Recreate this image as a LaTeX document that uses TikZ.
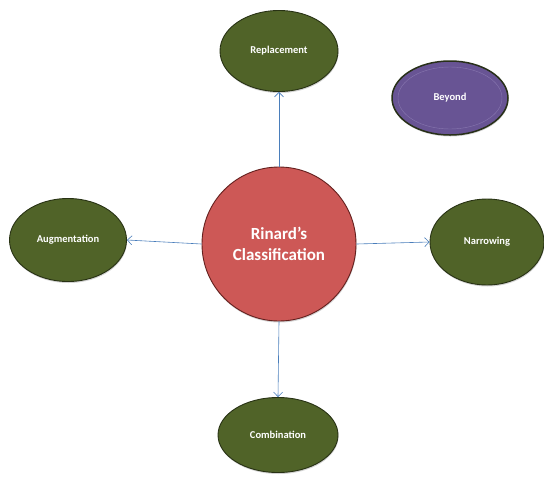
\documentclass[tikz,border=0pt]{standalone}
\usepackage{fontspec}
\setmainfont{Carlito}
\usetikzlibrary{shapes.geometric,arrows.meta,shadows}
\definecolor{olivefill}{RGB}{80,99,40}
\definecolor{oliveedge}{RGB}{40,50,20}
\definecolor{redfill}{RGB}{205,88,86}
\definecolor{rededge}{RGB}{100,32,30}
\definecolor{purplefill}{RGB}{104,84,148}
\definecolor{purpleedge}{RGB}{40,48,25}
\definecolor{purpleline}{RGB}{135,118,175}
\definecolor{arrowblue}{RGB}{74,126,187}
\tikzset{
  outer/.style={ellipse, inner sep=0pt, fill=olivefill, draw=oliveedge, line width=0.9pt,
    text=white, font=\fontsize{10.5}{12}\selectfont\bfseries,
    drop shadow={shadow xshift=0.5pt, shadow yshift=-1.5pt, opacity=0.35}},
  centre/.style={circle, inner sep=0pt, minimum size=154pt, fill=redfill, draw=rededge, line width=0.9pt,
    text=white, align=center, font=\fontsize{17}{20.5}\selectfont\bfseries,
    drop shadow={shadow xshift=0.5pt, shadow yshift=-1.5pt, opacity=0.35}},
  extra/.style={ellipse, inner sep=0pt, fill=purplefill, draw=purpleedge, line width=1.5pt,
    text=white, font=\fontsize{10.5}{12}\selectfont\bfseries,
    drop shadow={shadow xshift=0.5pt, shadow yshift=-1.5pt, opacity=0.35}},
  conn/.style={draw=arrowblue, line width=0.6pt, -{Straight Barb[length=4.5pt,width=9pt]}}
}
\begin{document}
\begin{tikzpicture}[x=1pt,y=-1pt]
\useasboundingbox (0,0) rectangle (544,483);
\node[centre] (c) at (279,244) {Rinard’s\\Classification};
\node[outer, minimum width=118pt, minimum height=81pt] (rep) at (279,51) {Replacement};
\node[outer, minimum width=117pt, minimum height=83pt] (aug) at (68,240) {Augmentation};
\node[outer, minimum width=114pt, minimum height=86pt] (nar) at (487,242) {Narrowing};
\node[outer, minimum width=120pt, minimum height=75pt] (com) at (278,435) {Combination};
\node[extra, minimum width=116pt, minimum height=74pt] (bey) at (450,98) {};
\draw[purpleline, line width=0.4pt] (bey.center) ellipse (52pt and 31pt);
\node[text=white, font=\fontsize{10.5}{12}\selectfont\bfseries] (beylabel) at (bey.center) {Beyond};
\draw[conn] (c.north) -- (rep.south);
\draw[conn] (c.west) -- (aug.east);
\draw[conn] (c.east) -- (nar.west);
\draw[conn] (c.south) -- (com.north);
\end{tikzpicture}
\end{document}
